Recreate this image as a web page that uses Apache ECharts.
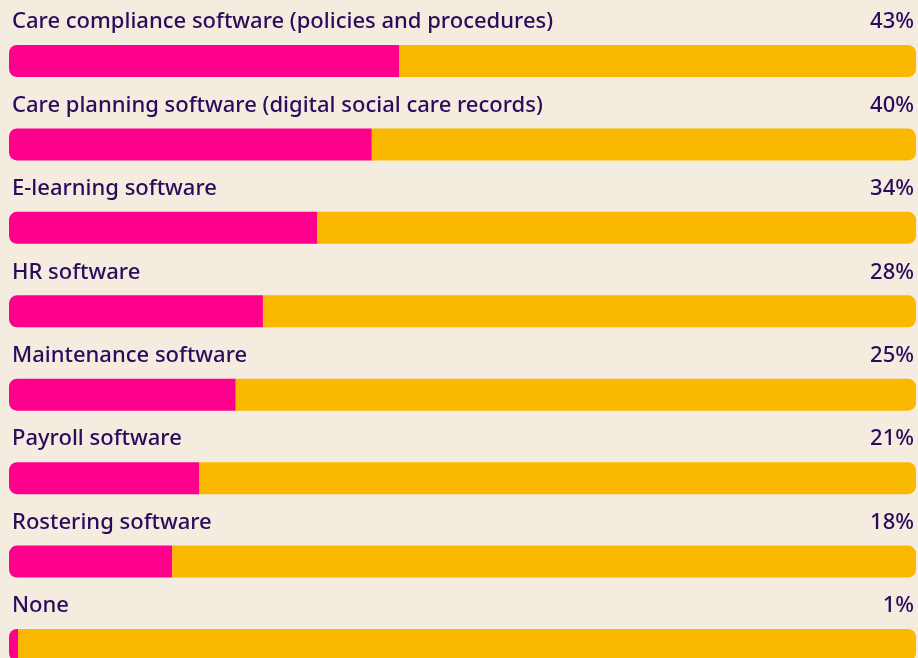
<!DOCTYPE html>
<html>
<head>
<meta charset="utf-8">
<script src="https://cdn.jsdelivr.net/npm/echarts@6/dist/echarts.min.js"></script>
<style>
  html, body { margin: 0; padding: 0; background: #f3ecdf; }
  #chart { width: 918px; height: 658px; }
</style>
</head>
<body>
<div id="chart"></div>
<script>
// Share of respondents using each type of software
const categories = [
  'Care compliance software (policies and procedures)',
  'Care planning software (digital social care records)',
  'E-learning software',
  'HR software',
  'Maintenance software',
  'Payroll software',
  'Rostering software',
  'None'
];
const usedPct = [43, 40, 34, 28, 25, 21, 18, 1];
const remainderPct = usedPct.map(v => 100 - v);

const TEXT = '#2b0b5c';
const FONT = '"Noto Sans", sans-serif';

const chart = echarts.init(document.getElementById('chart'));
chart.setOption({
  backgroundColor: '#f3ecdf',
  animation: false,
  // rows sit on the tick points, so the first and last bar centre on the grid edges
  grid: { left: 9, right: 2, top: 61, height: 584, containLabel: false },
  xAxis: { type: 'value', min: 0, max: 100, show: false },
  yAxis: { type: 'category', data: categories, inverse: true, boundaryGap: false, show: false },
  series: [
    {
      type: 'bar',
      stack: 'total',
      clip: false,
      data: usedPct,
      barWidth: 32,
      itemStyle: { color: '#ff008c', borderRadius: [8, 0, 0, 8] },
      label: {
        show: true,
        position: [3, -23],
        align: 'left',
        verticalAlign: 'middle',
        formatter: p => p.name,
        color: TEXT,
        fontFamily: FONT,
        fontSize: 22,
        fontWeight: 500
      }
    },
    {
      type: 'bar',
      stack: 'total',
      clip: false,
      data: remainderPct,
      barWidth: 32,
      itemStyle: { color: '#fbb800', borderRadius: [0, 8, 8, 0] },
      label: {
        show: true,
        position: ['100%', -23],
        offset: [-2, 0],
        align: 'right',
        verticalAlign: 'middle',
        formatter: p => usedPct[p.dataIndex] + '%',
        color: TEXT,
        fontFamily: FONT,
        fontSize: 22,
        fontWeight: 500
      }
    }
  ]
});
</script>
</body>
</html>
